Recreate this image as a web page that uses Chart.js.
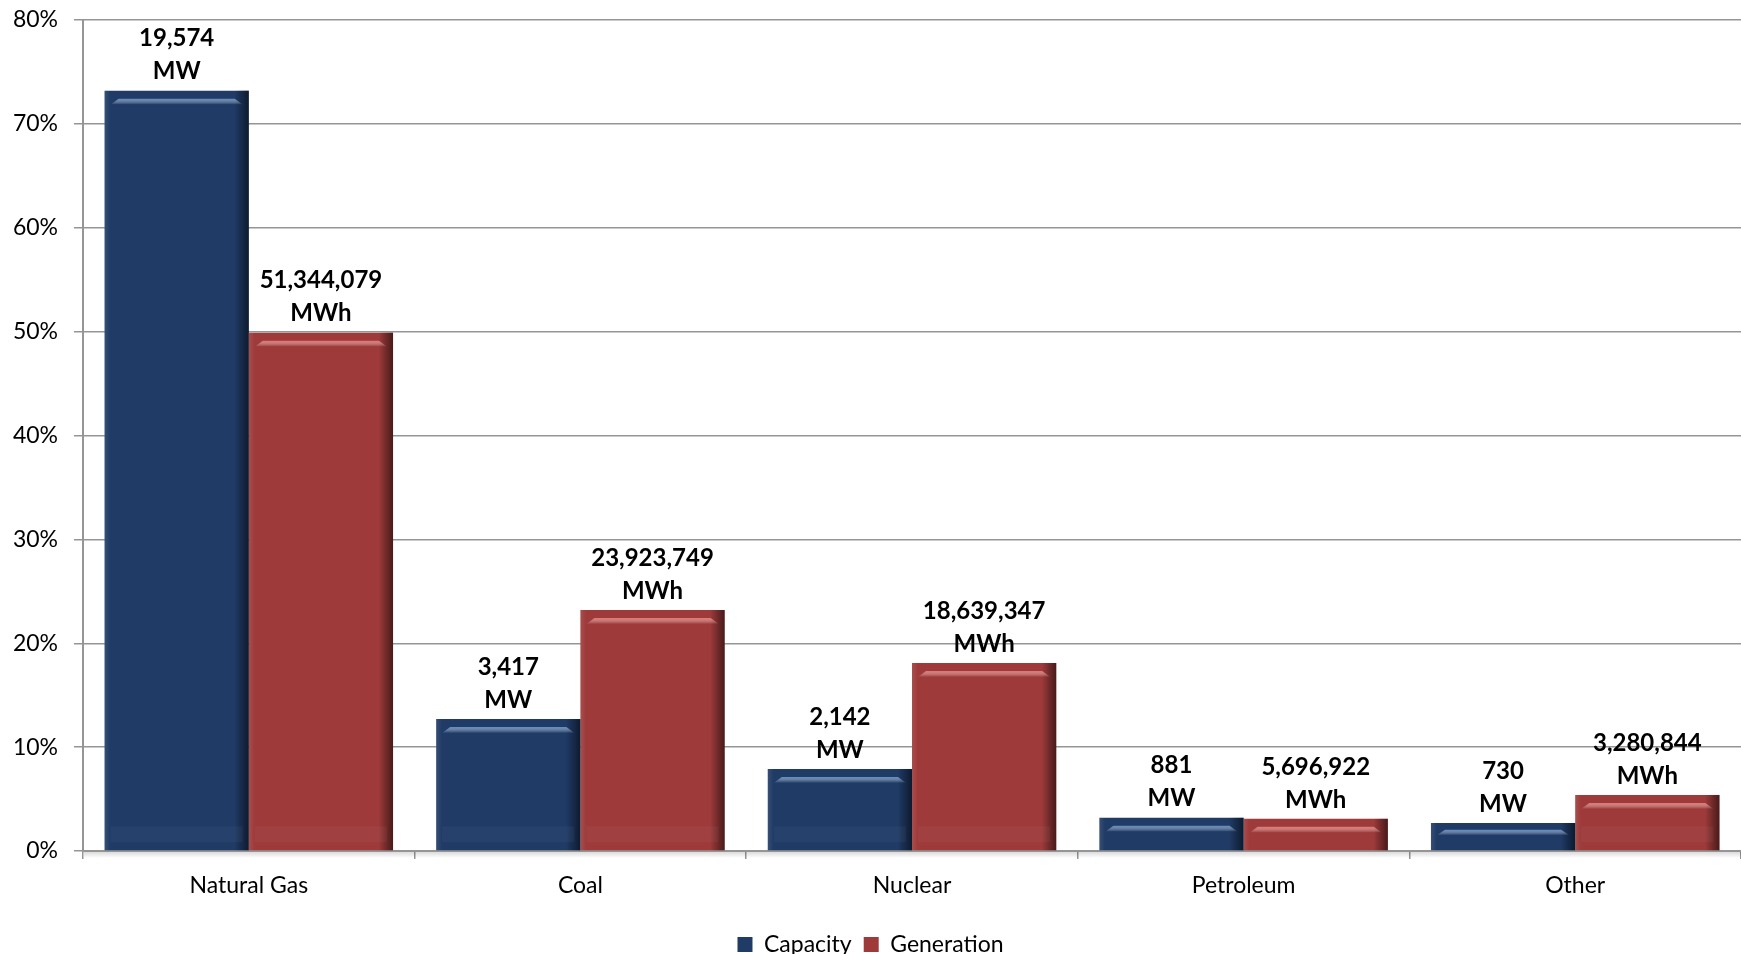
<!DOCTYPE html>
<html>
<head>
<meta charset="utf-8">
<script src="https://cdn.jsdelivr.net/npm/chart.js@4.4.7/dist/chart.umd.min.js"></script>
<style>
  html, body { margin: 0; padding: 0; background: #fff; }
  #wrap { width: 1741px; height: 954px; position: relative; }
</style>
</head>
<body>
<div id="wrap"><canvas id="mixChart"></canvas></div>
<script>
  // shares (percent of total)
  var categories = ["Natural Gas", "Coal", "Nuclear", "Petroleum", "Other"];
  var capacityShare = [73.2, 12.7, 7.9, 3.2, 2.7];
  var generationShare = [49.9, 23.2, 18.1, 3.1, 5.4];
  var capacityLabels = ["19,574", "3,417", "2,142", "881", "730"];
  var generationLabels = ["51,344,079", "23,923,749", "18,639,347", "5,696,922", "3,280,844"];
  var yMax = 80;
  var yStep = 10;

  var FONT = "Lato, 'Open Sans', sans-serif";
  var GRID = "#959595";

  // little bevel on each bar, like the old office 3d bars
  var bevelPlugin = {
    id: "bevel",
    afterDatasetsDraw: function (chart) {
      var ctx = chart.ctx;
      chart.data.datasets.forEach(function (ds, di) {
        var meta = chart.getDatasetMeta(di);
        meta.data.forEach(function (bar) {
          var p = bar.getProps(["x", "y", "base", "width"], true);
          var l = p.x - p.width / 2, r = p.x + p.width / 2, h = p.base - p.y;
          ctx.save();
          var g = ctx.createLinearGradient(l, 0, r, 0);
          g.addColorStop(0, "rgba(255,255,255,0.10)");
          g.addColorStop(0.04, "rgba(255,255,255,0)");
          g.addColorStop(0.9, "rgba(0,0,0,0)");
          g.addColorStop(1, "rgba(0,0,0,0.55)");
          ctx.fillStyle = g;
          ctx.fillRect(l, p.y, p.width, h);
          // top highlight stripe
          var sy = p.y + Math.min(8, h * 0.25);
          var sh = Math.min(6, h * 0.2);
          var hg = ctx.createLinearGradient(0, sy, 0, sy + sh);
          hg.addColorStop(0, ds.highlight);
          hg.addColorStop(1, "rgba(255,255,255,0)");
          ctx.fillStyle = hg;
          ctx.beginPath();
          ctx.moveTo(l + 14, sy);
          ctx.lineTo(r - 14, sy);
          ctx.lineTo(r - 6, sy + sh);
          ctx.lineTo(l + 6, sy + sh);
          ctx.closePath();
          ctx.fill();
          // faint bottom band
          if (h > 40) {
            ctx.fillStyle = "rgba(255,255,255,0.035)";
            ctx.fillRect(l + 6, p.base - 24, p.width - 12, 16);
          }
          ctx.restore();
        });
      });
    }
  };

  // soft shadow under the category axis
  var axisShadowPlugin = {
    id: "axisShadow",
    afterDraw: function (chart) {
      var ctx = chart.ctx, a = chart.chartArea;
      ctx.save();
      var g = ctx.createLinearGradient(0, a.bottom + 1, 0, a.bottom + 7);
      g.addColorStop(0, "rgba(0,0,0,0.14)");
      g.addColorStop(1, "rgba(0,0,0,0)");
      ctx.fillStyle = g;
      ctx.fillRect(a.left + 1, a.bottom + 1, a.right - a.left, 6);
      ctx.restore();
    }
  };

  var valueLabelPlugin = {
    id: "valueLabels",
    afterDatasetsDraw: function (chart) {
      var ctx = chart.ctx;
      ctx.save();
      ctx.font = "bold 24px " + FONT;
      ctx.fillStyle = "#000";
      ctx.textAlign = "center";
      ctx.textBaseline = "middle";
      chart.data.datasets.forEach(function (ds, di) {
        var meta = chart.getDatasetMeta(di);
        meta.data.forEach(function (bar, i) {
          ctx.fillText(ds.valueText[i], bar.x, bar.y - 52);
          ctx.fillText(ds.unit, bar.x, bar.y - 19);
        });
      });
      ctx.restore();
    }
  };

  var legendFitPlugin = {
    id: "legendFit",
    beforeInit: function (chart) {
      var orig = chart.legend.fit;
      chart.legend.fit = function () {
        orig.call(chart.legend);
        this.height = 33;
      };
    }
  };

  new Chart(document.getElementById("mixChart"), {
    type: "bar",
    data: {
      labels: categories,
      datasets: [{
        label: "Capacity",
        data: capacityShare,
        backgroundColor: "#1f3b66",
        highlight: "rgba(110,155,205,0.85)",
        valueText: capacityLabels,
        unit: "MW",
        borderWidth: 0,
        categoryPercentage: 0.87,
        barPercentage: 1.0,
      }, {
        label: "Generation",
        data: generationShare,
        backgroundColor: "#9e3a3a",
        highlight: "rgba(235,130,125,0.85)",
        valueText: generationLabels,
        unit: "MWh",
        borderWidth: 0,
        categoryPercentage: 0.87,
        barPercentage: 1.0,
      }],
    },
    options: {
      responsive: true,
      maintainAspectRatio: false,
      animation: false,
      layout: { padding: { top: 20, right: 0, bottom: 0, left: 0 } },
      plugins: {
        legend: {
          position: "bottom",
          labels: {
            color: "#000",
            font: { family: FONT, size: 23 },
            boxWidth: 15,
            boxHeight: 15,
            padding: 12,
          },
        },
        tooltip: { enabled: false },
      },
      scales: {
        x: {
          afterFit: function (scale) { scale.height = 70; },
          grid: {
            offset: true,
            drawOnChartArea: false,
            color: GRID,
            tickLength: 8,
            lineWidth: 1.5,
          },
          border: { color: GRID, width: 2 },
          ticks: { color: "#000", font: { family: FONT, size: 23 }, padding: 13 },
        },
        y: {
          min: 0,
          max: yMax,
          afterFit: function (scale) {
            scale.width = 83;
            scale.paddingTop = 0;
            scale.paddingBottom = 0;
          },
          grid: { color: GRID, lineWidth: 1.5, tickLength: 9 },
          border: { color: GRID, width: 2 },
          ticks: {
            stepSize: yStep,
            color: "#000",
            font: { family: FONT, size: 23 },
            padding: 16,
            callback: function (v) { return v + "%"; },
          },
        },
      },
    },
    plugins: [bevelPlugin, valueLabelPlugin, axisShadowPlugin, legendFitPlugin],
  });
</script>
</body>
</html>
